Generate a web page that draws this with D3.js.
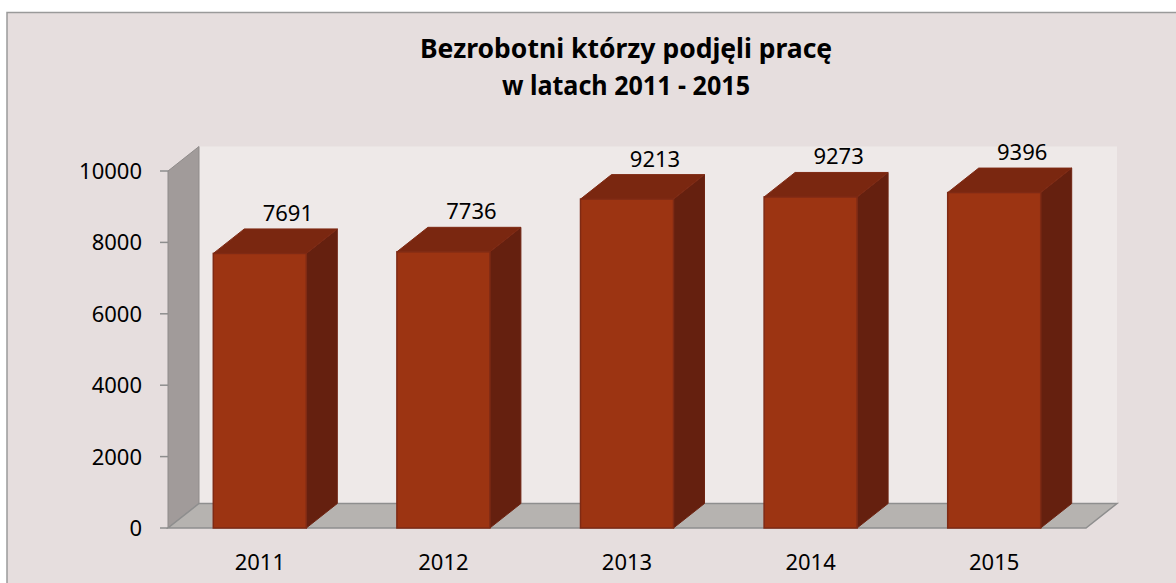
<!DOCTYPE html>
<html>
<head>
<meta charset="utf-8">
<script src="https://cdnjs.cloudflare.com/ajax/libs/d3/7.8.5/d3.min.js"></script>
<style>
    body { margin: 0; background: #ffffff; }
    text { font-family: "Noto Sans", "Open Sans", sans-serif; fill: #000; }
</style>
</head>
<body>
<script>
// Chart data
var years = ["2011", "2012", "2013", "2014", "2015"];
var values = [7691, 7736, 9213, 9273, 9396];
var yTicks = [0, 2000, 4000, 6000, 8000, 10000];
var titleLines = ["Bezrobotni którzy podjęli pracę", "w latach 2011 - 2015"];

var W = 1176, H = 583;

// front plane of the 3D box and the depth offset
var box = {left: 168, right: 1086, bottom: 528, top: 171};
var depth = {dx: 31, dy: -24.5};

var svg = d3.select("body").append("svg")
    .attr("width", W)
    .attr("height", H);

// chart area with border (cut off at right and bottom)
svg.append("rect")
    .attr("x", 7).attr("y", 12.5)
    .attr("width", W + 20).attr("height", H + 20)
    .attr("fill", "#e6dede")
    .attr("stroke", "#9a9a9a")
    .attr("stroke-width", 1.5);

var xScale = d3.scaleBand().domain(years).range([box.left, box.right]);
var yScale = d3.scaleLinear().domain([0, 10000]).range([box.bottom, box.top]);

function pts(a) {
    return a.map(function(p) { return p[0] + "," + p[1]; }).join(" ");
}

// back wall
svg.append("rect")
    .attr("x", box.left + depth.dx)
    .attr("y", yScale(10000) + depth.dy)
    .attr("width", box.right - box.left)
    .attr("height", box.bottom - box.top)
    .attr("fill", "#eee9e8");

// side wall
svg.append("polygon")
    .attr("points", pts([
        [box.left, yScale(10000)],
        [box.left + depth.dx, yScale(10000) + depth.dy],
        [box.left + depth.dx, box.bottom + depth.dy],
        [box.left, box.bottom]
    ]))
    .attr("fill", "#a19b9a")
    .attr("stroke", "#8f8b8a")
    .attr("stroke-width", 1);

// floor
svg.append("polygon")
    .attr("points", pts([
        [box.left, box.bottom],
        [box.right, box.bottom],
        [box.right + depth.dx, box.bottom + depth.dy],
        [box.left + depth.dx, box.bottom + depth.dy]
    ]))
    .attr("fill", "#b6b3b0")
    .attr("stroke", "#8e8e8e")
    .attr("stroke-width", 1.5);

// y axis ticks and labels
var yAxis = svg.append("g").attr("class", "y axis");
yAxis.selectAll("line")
    .data(yTicks)
    .enter()
    .append("line")
    .attr("x1", box.left - 8).attr("x2", box.left)
    .attr("y1", function(d) { return yScale(d); })
    .attr("y2", function(d) { return yScale(d); })
    .attr("stroke", "#8e8e8e")
    .attr("stroke-width", 1.5);
yAxis.selectAll("text")
    .data(yTicks)
    .enter()
    .append("text")
    .attr("x", 142)
    .attr("y", function(d) { return yScale(d); })
    .attr("dy", "0.36em")
    .style("text-anchor", "end")
    .style("font-size", "22px")
    .text(function(d) { return d; });

// bars
var barW = 93;
var bars = svg.selectAll("g.bar")
    .data(values)
    .enter()
    .append("g")
    .attr("class", "bar");

function x0(i) { return xScale(years[i]) + (xScale.bandwidth() - barW) / 2; }

// side face
bars.append("polygon")
    .attr("points", function(d, i) {
        var x = x0(i) + barW, y = yScale(d);
        return pts([[x, y], [x + depth.dx, y + depth.dy],
                    [x + depth.dx, box.bottom + depth.dy], [x, box.bottom]]);
    })
    .attr("fill", "#65200f")
    .attr("stroke", "#6e2412")
    .attr("stroke-width", 1);

// top face
bars.append("polygon")
    .attr("points", function(d, i) {
        var x = x0(i), y = yScale(d);
        return pts([[x, y], [x + barW, y], [x + barW + depth.dx, y + depth.dy],
                    [x + depth.dx, y + depth.dy]]);
    })
    .attr("fill", "#7a2710")
    .attr("stroke", "#7f2a14")
    .attr("stroke-width", 1);

// front face
bars.append("rect")
    .attr("x", function(d, i) { return x0(i); })
    .attr("y", function(d) { return yScale(d); })
    .attr("width", barW)
    .attr("height", function(d) { return box.bottom - yScale(d); })
    .attr("fill", "#9c3412")
    .attr("stroke", "#7f2a14")
    .attr("stroke-width", 1.5);

// value labels
svg.selectAll("text.label")
    .data(values)
    .enter()
    .append("text")
    .attr("class", "label")
    .attr("x", function(d, i) { return xScale(years[i]) + xScale.bandwidth() / 2 + 28; })
    .attr("y", function(d) { return yScale(d) + depth.dy - 8; })
    .style("text-anchor", "middle")
    .style("font-size", "22px")
    .text(function(d) { return d; });

// x axis labels
svg.selectAll("text.xlab")
    .data(years)
    .enter()
    .append("text")
    .attr("class", "xlab")
    .attr("x", function(d) { return xScale(d) + xScale.bandwidth() / 2; })
    .attr("y", 570)
    .style("text-anchor", "middle")
    .style("font-size", "22px")
    .text(function(d) { return d; });

// title
var titleLen = [412, 248];
svg.selectAll("text.title")
    .data(titleLines)
    .enter()
    .append("text")
    .attr("class", "title")
    .attr("x", 626)
    .attr("y", function(d, i) { return 58 + i * 37; })
    .attr("textLength", function(d, i) { return titleLen[i]; })
    .attr("lengthAdjust", "spacingAndGlyphs")
    .style("text-anchor", "middle")
    .style("font-size", "26px")
    .style("font-weight", "bold")
    .text(function(d) { return d; });
</script>
</body>
</html>
